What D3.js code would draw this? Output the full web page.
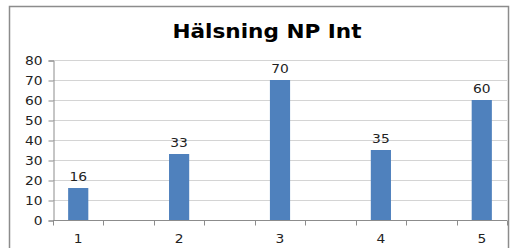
<!DOCTYPE html>
<html>
<head>
<meta charset="utf-8">
<script src="https://cdn.jsdelivr.net/npm/d3@7"></script>
<style>
  body { margin: 0; background: #fff; }
  text { font-family: "DejaVu Sans", sans-serif; }
</style>
</head>
<body>
<script>
// categories incl. the empty slots between them
var categories = ["1", "", "2", "", "3", "", "4", "", "5"];
var values = [16, null, 33, null, 70, null, 35, null, 60];
var yTicks = [0, 10, 20, 30, 40, 50, 60, 70, 80];
var title = "Hälsning NP Int";

var screen = {width: 518, height: 248};
var margin = {left: 53, right: 11, top: 60, bottom: 28};

var svg = d3.select("body")
            .append("svg")
            .attr("width", screen.width)
            .attr("height", screen.height);

// chart frame
svg.append("rect")
   .attr("x", 9.5).attr("y", 6.5)
   .attr("width", 499).attr("height", 250)
   .attr("fill", "none")
   .attr("stroke", "#8c8c8c")
   .attr("stroke-width", 1.5);

svg.append("text")
   .attr("x", 267).attr("y", 38)
   .attr("text-anchor", "middle")
   .attr("font-size", 19)
   .attr("font-weight", "bold")
   .attr("textLength", 189)
   .attr("lengthAdjust", "spacingAndGlyphs")
   .text(title);

var x = d3.scaleBand()
          .domain(d3.range(categories.length))
          .range([margin.left, screen.width - margin.right])
          .paddingInner(0.6)
          .paddingOuter(0.3);

var y = d3.scaleLinear()
          .domain([0, 80])
          .range([screen.height - margin.bottom, margin.top]);

// gridlines
svg.append("g")
   .selectAll("line")
   .data(yTicks.slice(1))
   .enter()
   .append("line")
   .attr("x1", margin.left).attr("x2", screen.width - margin.right)
   .attr("y1", function(d) {return Math.round(y(d)) + 0.5;})
   .attr("y2", function(d) {return Math.round(y(d)) + 0.5;})
   .attr("stroke", "#d4d4d4");

// y axis
var yAxis = svg.append("g")
   .attr("transform", "translate(" + (margin.left + 0.5) + ",0.5)")
   .call(d3.axisLeft(y).tickValues(yTicks).tickSize(5).tickPadding(8));
yAxis.selectAll("path, line").attr("stroke", "#8c8c8c");
yAxis.selectAll("text")
     .attr("font-size", 12)
     .attr("font-family", "DejaVu Sans")
     .attr("fill", "#222")
     .attr("transform", "scale(1.15,1)");
yAxis.selectAll("text").attr("x", -11 / 1.15);

// x axis
var xAxis = svg.append("g")
   .attr("transform", "translate(0," + (y(0) + 0.5) + ")");
xAxis.append("line")
     .attr("x1", margin.left).attr("x2", screen.width - margin.right)
     .attr("stroke", "#8c8c8c");
var bounds = d3.range(categories.length + 1).map(function(i) {
  return margin.left + i * x.step();
});
xAxis.selectAll(".tk")
     .data(bounds)
     .enter()
     .append("line")
     .attr("x1", function(d) {return Math.round(d) + 0.5;})
     .attr("x2", function(d) {return Math.round(d) + 0.5;})
     .attr("y1", 0).attr("y2", 5)
     .attr("stroke", "#8c8c8c");
xAxis.selectAll(".lbl")
     .data(categories)
     .enter()
     .append("text")
     .attr("transform", function(d, i) {
       return "translate(" + (x(i) + x.bandwidth() / 2) + ",22) scale(1.15,1)";
     })
     .attr("text-anchor", "middle")
     .attr("font-size", 12)
     .attr("fill", "#222")
     .text(function(d) {return d;});

var data = values.map(function(v, i) {return {i: i, v: v};})
                 .filter(function(d) {return d.v !== null;});

svg.append("g")
   .selectAll("rect")
   .data(data)
   .enter()
   .append("rect")
   .attr("x", function(d) {return x(d.i);})
   .attr("width", x.bandwidth())
   .attr("y", function(d) {return y(d.v);})
   .attr("height", function(d) {return y(0) - y(d.v);})
   .attr("fill", "#4f81bd");

svg.append("g")
   .selectAll("text")
   .data(data)
   .enter()
   .append("text")
   .attr("transform", function(d) {
     return "translate(" + (x(d.i) + x.bandwidth() / 2) + "," + (y(d.v) - 7) + ") scale(1.15,1)";
   })
   .attr("text-anchor", "middle")
   .attr("font-size", 12)
   .attr("fill", "#222")
   .text(function(d) {return d.v;});
</script>
</body>
</html>
